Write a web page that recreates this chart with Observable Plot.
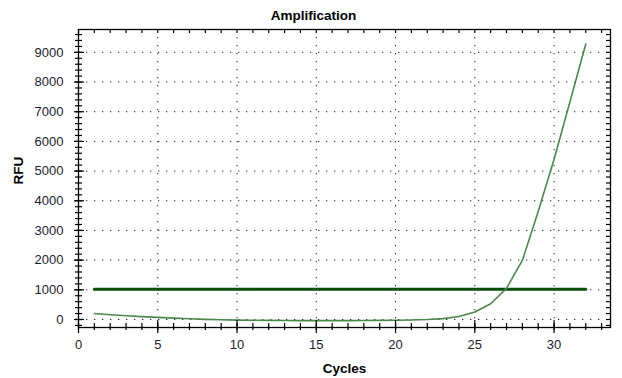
<!DOCTYPE html>
<html><head><meta charset="utf-8">
<script src="https://cdn.jsdelivr.net/npm/d3@7"></script>
<script src="https://cdn.jsdelivr.net/npm/@observablehq/plot@0.6"></script>
<style>body{margin:0;background:#fff}</style>
</head><body><div id="chart"></div>
<script>
const cycles = [1,2,3,4,5,6,7,8,9,10,11,12,13,14,15,16,17,18,19,20,21,22,23,24,25,26,27,28,29,30,31,32];
const rfu = [200,160,125,95,70,45,25,5,-10,-20,-25,-30,-35,-40,-40,-40,-40,-35,-30,-25,-15,0,30,100,250,530,1050,1990,3640,5400,7330,9280];
const thresholdCycles = [1, 32];
const thresholdValue = 1020;
const xMajorTicks = [0,5,10,15,20,25,30];
const xMinorTicks = [0,1,2,3,4,5,6,7,8,9,10,11,12,13,14,15,16,17,18,19,20,21,22,23,24,25,26,27,28,29,30,31,32,33];
const yMajorTicks = [0,1000,2000,3000,4000,5000,6000,7000,8000,9000];
const yMinorTicks = [-200,0,200,400,600,800,1000,1200,1400,1600,1800,2000,2200,2400,2600,2800,3000,3200,3400,3600,3800,4000,4200,4400,4600,4800,5000,5200,5400,5600,5800,6000,6200,6400,6600,6800,7000,7200,7400,7600,7800,8000,8200,8400,8600,8800,9000,9200,9400,9600];
const title = "Amplification";
const xLabel = "Cycles";
const yLabel = "RFU";

const curve = cycles.map((c, i) => ({cycle: c, rfu: rfu[i]}));
const threshold = thresholdCycles.map(c => ({cycle: c, rfu: thresholdValue}));

const tickColor = "#000";
const labelColor = "#1c1c30";

const chart = Plot.plot({
  width: 622,
  height: 378,
  marginLeft: 78,
  marginRight: 12,
  marginTop: 29,
  marginBottom: 51,
  x: {domain: [0, 33.56]},
  y: {domain: [-270, 9770]},
  style: {fontFamily: "'Liberation Sans', Arial, sans-serif", fontSize: "13px", background: "#fff", color: labelColor},
  marks: [
    Plot.gridX(xMajorTicks.filter(d => d > 0), {stroke: "#000", strokeOpacity: 0.85, strokeDasharray: "1.3,6.7"}),
    Plot.gridY(yMajorTicks, {stroke: "#000", strokeOpacity: 0.85, strokeDasharray: "1.3,6.7"}),
    Plot.line(threshold, {x: "cycle", y: "rfu", stroke: "#0b4f0b", strokeWidth: 3}),
    Plot.line(curve, {x: "cycle", y: "rfu", stroke: "#4a8a4a", strokeWidth: 1.6}),
    Plot.frame({stroke: "#000", strokeWidth: 1.3}),
    // bottom axis
    Plot.axisX(xMinorTicks, {tickSize: 3, text: null, label: null, stroke: tickColor, strokeWidth: 1.2}),
    Plot.axisX(xMajorTicks, {tickSize: 6, tickPadding: 6, label: null, tickFormat: "d", stroke: tickColor, strokeWidth: 1.2, fill: labelColor}),
    Plot.tickX(xMinorTicks, {x: d => d, insetTop: 294, stroke: tickColor, strokeWidth: 1.2}),
    Plot.tickX(xMajorTicks, {x: d => d, insetTop: 291, stroke: tickColor, strokeWidth: 1.2}),
    // top ticks
    Plot.tickX(xMinorTicks, {x: d => d, insetBottom: 294, stroke: tickColor, strokeWidth: 1.2}),
    // left axis
    Plot.axisY(yMinorTicks, {tickSize: 3, text: null, label: null, stroke: tickColor, strokeWidth: 1.2}),
    Plot.axisY(yMajorTicks, {tickSize: 4, tickPadding: 11, label: null, tickFormat: "d", stroke: tickColor, strokeWidth: 1.2, fill: labelColor}),
    Plot.tickY(yMinorTicks, {y: d => d, insetRight: 528, stroke: tickColor, strokeWidth: 1.2}),
    Plot.tickY(yMajorTicks, {y: d => d, insetRight: 526, stroke: tickColor, strokeWidth: 1.2}),
    // right ticks
    Plot.tickY(yMinorTicks, {y: d => d, insetLeft: 528, stroke: tickColor, strokeWidth: 1.2}),
    // titles
    Plot.text([title], {text: d => d, frameAnchor: "top", lineAnchor: "middle", dy: -14, dx: -31, fontWeight: "bold", fontSize: 13.5, fill: "#000"}),
    Plot.text([xLabel], {text: d => d, frameAnchor: "bottom", lineAnchor: "middle", dy: 41, fontWeight: "bold", fontSize: 13.5, fill: "#000"}),
    Plot.text([yLabel], {text: d => d, frameAnchor: "left", lineAnchor: "middle", rotate: -90, dx: -60, dy: 6, fontWeight: "bold", fontSize: 13.5, fill: "#000"})
  ]
});
document.getElementById("chart").appendChild(chart);
</script>
</body></html>
